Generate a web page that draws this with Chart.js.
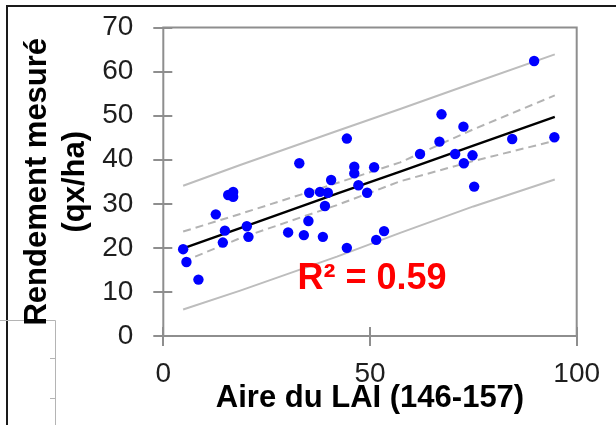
<!DOCTYPE html>
<html>
<head>
<meta charset="utf-8">
<script src="https://cdn.jsdelivr.net/npm/chart.js@4.4.1/dist/chart.umd.min.js"></script>
<style>
  html, body { margin: 0; padding: 0; background: #fff; }
  #wrap { position: relative; width: 616px; height: 425px; }
</style>
</head>
<body>
<div id="wrap"><canvas id="c" width="616" height="425"></canvas></div>
<script>
// ---- data ----
const obsX = [4.8, 5.6, 8.5, 12.7, 14.4, 14.9, 15.7, 16.9, 16.9, 20.2, 20.6, 30.2, 32.9, 34.0, 35.1, 35.3, 37.9, 38.6, 39.1, 39.8, 40.6, 44.4, 44.4, 46.2, 46.2, 47.2, 49.3, 51.0, 51.5, 53.4, 62.1, 66.8, 67.3, 70.6, 72.6, 72.7, 74.8, 75.2, 84.4, 89.7, 94.6];
const obsY = [19.7, 16.8, 12.8, 27.6, 21.2, 23.9, 32.0, 32.7, 31.6, 24.9, 22.5, 23.5, 39.2, 22.9, 26.1, 32.5, 32.7, 22.5, 29.5, 32.5, 35.4, 44.8, 20.0, 38.4, 36.9, 34.2, 32.5, 38.3, 21.8, 23.8, 41.3, 44.1, 50.3, 41.3, 47.5, 39.2, 41.0, 33.9, 44.7, 62.4, 45.1];

const bandX    = [4.8, 18.6, 42.0, 57.3, 75.0, 94.7];
const fitY     = [19.9, 24.5, 32.3, 37.3, 43.2, 49.7];
const confUp   = [23.7, 27.7, 34.7, 39.4, 46.9, 54.6];
const confLow  = [16.9, 22.2, 29.7, 35.1, 39.7, 44.3];
const predUp   = [34.1, 38.8, 46.5, 51.5, 57.4, 63.9];
const predLow  = [6.0, 10.3, 18.0, 23.4, 29.4, 35.5];

const xTicks = [0, 50, 100];
const yTicks = [0, 10, 20, 30, 40, 50, 60, 70];
const xTitle = 'Aire du LAI (146-157)';
const yTitle = ['Rendement mesuré', '(qx/ha)'];
const r2Label = 'R² = 0.59';

// ---- build library structures ----
const pts = (xs, ys) => xs.map((v, i) => ({ x: v, y: ys[i] }));
const FONT = '"Liberation Sans", Arial, Helvetica, sans-serif';

const lineDs = (ys, color, width, dash) => ({
  data: pts(bandX, ys),
  showLine: true,
  borderColor: color,
  borderWidth: width,
  borderDash: dash || [],
  pointRadius: 0,
  pointHoverRadius: 0,
  fill: false,
  tension: 0
});

const decoPlugin = {
  id: 'deco',
  beforeDraw(chart) {
    const ctx = chart.ctx;
    ctx.save();
    ctx.fillStyle = '#ffffff';
    ctx.fillRect(0, 0, chart.width, chart.height);
    // outer border of the surrounding figure
    ctx.strokeStyle = '#1a1a1a';
    ctx.lineWidth = 2;
    ctx.beginPath();
    ctx.moveTo(7, 425); ctx.lineTo(7, 6); ctx.lineTo(616, 6);
    ctx.stroke();
    // small gray box bottom-left (another object behind)
    ctx.strokeStyle = '#b4b4b4';
    ctx.lineWidth = 1;
    ctx.beginPath();
    ctx.moveTo(0, 320.5); ctx.lineTo(55.5, 320.5); ctx.lineTo(55.5, 425);
    ctx.moveTo(50, 358.5); ctx.lineTo(55.5, 358.5);
    ctx.moveTo(50, 398.5); ctx.lineTo(55.5, 398.5);
    ctx.stroke();
    ctx.restore();
  },
  beforeDatasetsDraw(chart) {
    const { ctx, chartArea: a, scales: { x, y } } = chart;
    ctx.save();
    ctx.strokeStyle = '#8e8e8e';
    ctx.lineWidth = 2;
    ctx.strokeRect(a.left, a.top, a.right - a.left, a.bottom - a.top);
    ctx.beginPath();
    y.ticks.forEach(t => {
      const py = Math.round(y.getPixelForValue(t.value));
      ctx.moveTo(a.left - 10, py); ctx.lineTo(a.left + 9, py);
    });
    x.ticks.forEach(t => {
      const px = Math.round(x.getPixelForValue(t.value));
      ctx.moveTo(px, a.bottom - 9); ctx.lineTo(px, a.bottom + 10);
    });
    ctx.stroke();
    ctx.restore();
  },
  afterDatasetsDraw(chart) {
    const { ctx, scales: { x, y } } = chart;
    ctx.save();
    ctx.fillStyle = '#ff0000';
    ctx.font = 'bold 36px ' + FONT;
    ctx.textAlign = 'center';
    ctx.textBaseline = 'middle';
    ctx.fillText(r2Label, x.getPixelForValue(50.5), y.getPixelForValue(13));
    ctx.restore();
  }
};

new Chart(document.getElementById('c'), {
  type: 'scatter',
  data: {
    datasets: [
      {
        data: pts(obsX, obsY),
        backgroundColor: '#0000ff',
        borderColor: '#0000ff',
        borderWidth: 0,
        pointRadius: 5.2,
        pointHoverRadius: 5.2
      },
      lineDs(fitY, '#000000', 2.4),
      lineDs(confUp, '#b3b3b3', 2, [8, 5]),
      lineDs(confLow, '#b3b3b3', 2, [8, 5]),
      lineDs(predUp, '#bdbdbd', 2),
      lineDs(predLow, '#bdbdbd', 2)
    ]
  },
  options: {
    responsive: false,
    animation: false,
    devicePixelRatio: 1,
    layout: { padding: { left: 0, top: 27.5, right: 39.3, bottom: 0 } },
    plugins: { legend: { display: false }, tooltip: { enabled: false } },
    events: [],
    scales: {
      x: {
        type: 'linear',
        min: 0, max: 100,
        afterBuildTicks: s => { s.ticks = xTicks.map(v => ({ value: v })); },
        afterFit: s => { s.height = 89; s.paddingLeft = 0; s.paddingRight = 0; },
        grid: { display: false, drawTicks: false },
        border: { display: false },
        ticks: {
          color: '#1e1e1e',
          padding: 21,
          font: { family: FONT, size: 28, lineHeight: 1.2 },
          maxRotation: 0
        },
        title: {
          display: true,
          text: xTitle,
          color: '#000',
          font: { family: FONT, size: 31, weight: 'bold', lineHeight: 1.2 },
          padding: { top: 0, bottom: 8 }
        }
      },
      y: {
        type: 'linear',
        min: 0, max: 70,
        afterBuildTicks: s => { s.ticks = yTicks.map(v => ({ value: v })); },
        afterFit: s => { s.width = 163.3; s.paddingTop = 0; s.paddingBottom = 0; },
        grid: { display: false, drawTicks: false },
        border: { display: false },
        ticks: {
          color: '#1e1e1e',
          padding: 30,
          font: { family: FONT, size: 28, lineHeight: 1.2 }
        },
        title: {
          display: true,
          text: yTitle,
          color: '#000',
          font: { family: FONT, size: 31, weight: 'bold', lineHeight: 1.23 },
          padding: { top: 18, bottom: 0 }
        }
      }
    }
  },
  plugins: [decoPlugin]
});
</script>
</body>
</html>
